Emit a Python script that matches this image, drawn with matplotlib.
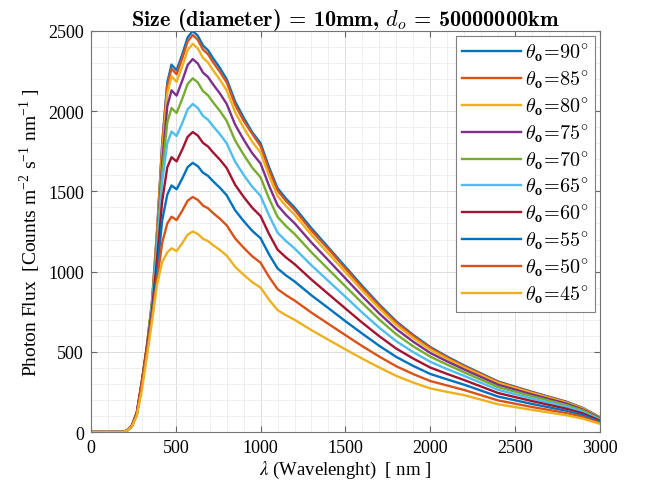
import numpy as np
import matplotlib
matplotlib.use("Agg")
import matplotlib.pyplot as plt
from matplotlib.ticker import MultipleLocator

# wavelength grid (nm)
wl = [0, 180, 210, 240, 270, 300, 330, 360, 390, 420, 450, 475, 505, 540, 570,
      600, 630, 660, 690, 720, 760, 800, 850, 900, 950, 1000, 1050, 1100, 1150,
      1200, 1300, 1400, 1500, 1600, 1700, 1800, 1900, 2000, 2100, 2200, 2400,
      2600, 2800, 2900, 3000]

# photon flux for each viewing angle
flux_90 = [0, 0, 8, 35, 110, 300, 520, 800, 1250, 1800, 2180, 2290, 2255, 2360, 2460,
           2500, 2470, 2410, 2380, 2330, 2270, 2200, 2060, 1960, 1870, 1800, 1650, 1520, 1455,
           1400, 1270, 1150, 1030, 910, 795, 690, 605, 530, 470, 415, 315,
           250, 190, 150, 92]
flux_85 = [0, 0, 8, 38, 120, 320, 540, 820, 1260, 1790, 2160, 2265, 2230, 2335, 2435,
           2475, 2445, 2385, 2355, 2305, 2245, 2180, 2040, 1940, 1860, 1782, 1633, 1505, 1440,
           1385, 1255, 1140, 1020, 900, 787, 683, 599, 525, 465, 411, 312,
           248, 188, 148, 91]
flux_80 = [0, 0, 6, 32, 105, 290, 510, 790, 1230, 1745, 2110, 2217, 2183, 2284, 2381,
           2420, 2391, 2333, 2304, 2255, 2197, 2130, 1994, 1897, 1810, 1742, 1597, 1471, 1408,
           1355, 1229, 1113, 997, 881, 770, 668, 586, 513, 456, 403, 306,
           243, 184, 146, 89]
flux_75 = [0, 0, 7, 36, 115, 310, 530, 780, 1200, 1680, 2030, 2130, 2097, 2195, 2288,
           2325, 2297, 2241, 2213, 2167, 2111, 2046, 1916, 1823, 1739, 1674, 1535, 1414, 1353,
           1302, 1181, 1070, 958, 846, 739, 642, 563, 493, 440, 390, 295,
           234, 178, 140, 86]
flux_70 = [0, 0, 6, 33, 110, 300, 540, 800, 1180, 1620, 1930, 2020, 1989, 2082, 2170,
           2205, 2179, 2126, 2099, 2055, 2002, 1940, 1817, 1729, 1649, 1588, 1455, 1341, 1283,
           1235, 1120, 1014, 908, 803, 701, 609, 534, 470, 420, 372, 280,
           223, 169, 134, 82]
flux_65 = [0, 0, 7, 35, 105, 290, 520, 790, 1150, 1560, 1800, 1873, 1845, 1930, 2012,
           2045, 2020, 1971, 1947, 1906, 1857, 1800, 1685, 1603, 1530, 1472, 1350, 1243, 1190,
           1145, 1039, 941, 843, 744, 650, 566, 498, 438, 392, 350, 263,
           209, 159, 125, 77]
flux_60 = [0, 0, 8, 38, 120, 310, 530, 760, 1080, 1440, 1650, 1713, 1687, 1765, 1840,
           1870, 1848, 1803, 1780, 1743, 1698, 1646, 1541, 1466, 1399, 1346, 1234, 1137, 1088,
           1047, 950, 860, 770, 681, 597, 520, 458, 402, 362, 324, 243,
           193, 146, 116, 71]
flux_55 = [0, 0, 6, 34, 108, 290, 500, 730, 1000, 1320, 1480, 1537, 1513, 1584, 1651,
           1678, 1657, 1617, 1597, 1563, 1523, 1476, 1382, 1315, 1255, 1208, 1107, 1020, 976,
           939, 852, 772, 691, 613, 537, 468, 412, 362, 328, 295, 221,
           175, 133, 105, 64]
flux_50 = [0, 0, 7, 36, 112, 300, 510, 720, 950, 1180, 1300, 1342, 1321, 1383, 1442,
           1465, 1447, 1412, 1395, 1365, 1330, 1289, 1207, 1149, 1096, 1055, 967, 891, 853,
           820, 744, 674, 604, 535, 470, 410, 361, 318, 290, 262, 197,
           156, 119, 94, 57]
flux_45 = [0, 0, 6, 32, 100, 260, 470, 690, 920, 1060, 1120, 1145, 1128, 1180, 1230,
           1250, 1235, 1205, 1190, 1165, 1135, 1100, 1030, 980, 935, 900, 825, 760, 728,
           700, 635, 575, 515, 457, 402, 350, 308, 272, 250, 230, 173,
           138, 105, 83, 51]

angles = [90, 85, 80, 75, 70, 65, 60, 55, 50, 45]
series = [flux_90, flux_85, flux_80, flux_75, flux_70, flux_65, flux_60, flux_55, flux_50, flux_45]

# MATLAB default colour order
colors = ['#0072BD', '#D95319', '#EDB120', '#7E2F8E', '#77AC30',
          '#4DBEEE', '#A2142F', '#0072BD', '#D95319', '#EDB120']

plt.rcParams['font.family'] = 'Liberation Serif'
plt.rcParams['mathtext.fontset'] = 'cm'

fig = plt.figure(figsize=(6.45, 4.89), dpi=100)
ax = fig.add_axes([0.141, 0.1145, 0.789, 0.8201])

for ang, y, c in zip(angles, series, colors):
    ax.plot(wl, y, color=c, lw=1.7, label=r'$\theta_{\mathbf{o}}\!=\!%d^{\circ}$' % ang)

ax.set_xlim(0, 3000)
ax.set_ylim(0, 2500)
ax.xaxis.set_major_locator(MultipleLocator(500))
ax.yaxis.set_major_locator(MultipleLocator(500))
ax.xaxis.set_minor_locator(MultipleLocator(100))
ax.yaxis.set_minor_locator(MultipleLocator(100))
ax.grid(which='major', color='#dcdcdc', lw=0.7)
ax.grid(which='minor', color='#ececec', lw=0.6)
ax.set_axisbelow(True)
ax.tick_params(which='major', direction='in', top=True, right=True, length=4,
               labelsize=13, color='0.4', pad=5)
ax.tick_params(which='minor', length=0)
for s in ax.spines.values():
    s.set_color('0.45')
    s.set_linewidth(0.8)

ax.set_title(r'Size (diameter) = 10mm, $d_o$ = 50000000km', family='cmb10',
             fontsize=16, pad=4)
ax.set_ylabel(r'Photon Flux  [Counts m$^{\mathregular{ -2}}$ s$^{\mathregular{ -1}}$ nm$^{\mathregular{ -1}}$ ]',
              fontsize=14, math_fontfamily='stix', labelpad=4)
ax.set_xlabel(r'$\lambda$ (Wavelenght)  [ nm ]', fontsize=13.5, math_fontfamily='stix', labelpad=2)

leg = ax.legend(loc='upper right', fontsize=14.5, frameon=True, fancybox=False,
                framealpha=1, edgecolor='0.5', handlelength=2.9, handletextpad=0.2,
                labelspacing=0.22, borderpad=0.3, borderaxespad=0.25)
leg.get_frame().set_linewidth(0.8)

fig.savefig('out.png', dpi=100)
